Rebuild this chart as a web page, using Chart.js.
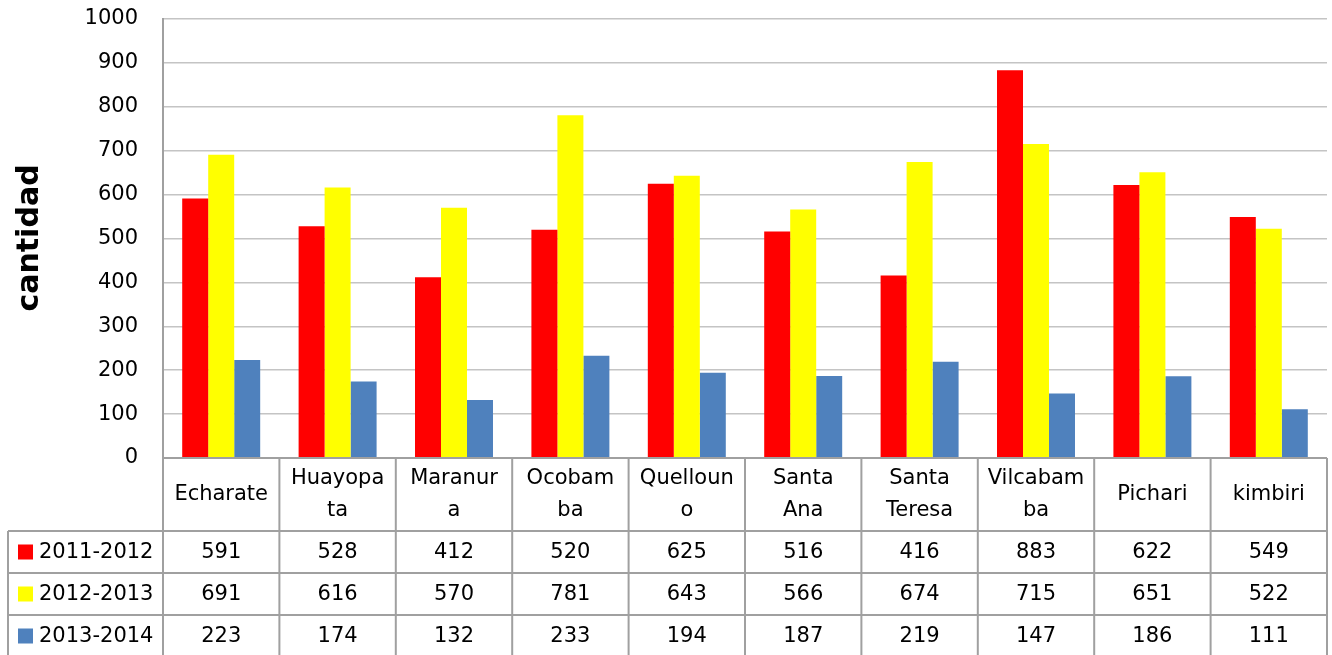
<!DOCTYPE html>
<html>
<head>
<meta charset="utf-8">
<script src="https://cdn.jsdelivr.net/npm/chart.js@4.4.1/dist/chart.umd.min.js"></script>
<style>
  html, body { margin: 0; padding: 0; background: #fff; }
  #wrap { width: 1332px; height: 655px; }
</style>
</head>
<body>
<div id="wrap"><canvas id="chart" width="1332" height="655"></canvas></div>
<script>
// distritos (header text is wrapped like in the original table)
const categories = [
  ['Echarate'], ['Huayopa', 'ta'], ['Maranur', 'a'], ['Ocobam', 'ba'], ['Quelloun', 'o'],
  ['Santa', 'Ana'], ['Santa', 'Teresa'], ['Vilcabam', 'ba'], ['Pichari'], ['kimbiri']
];
const seriesNames = ['2011-2012', '2012-2013', '2013-2014'];
const values2011 = [591, 528, 412, 520, 625, 516, 416, 883, 622, 549];
const values2012 = [691, 616, 570, 781, 643, 566, 674, 715, 651, 522];
const values2013 = [223, 174, 132, 233, 194, 187, 219, 147, 186, 111];
const yTicks = [0, 100, 200, 300, 400, 500, 600, 700, 800, 900, 1000];

const colors = ['#FF0000', '#FFFF00', '#4F81BD'];
const FONT = '"DejaVu Sans", sans-serif';
const lineGray = '#a0a0a0';

// data table under the plot (Excel style)
const dataTable = {
  id: 'dataTable',
  afterDraw(chart) {
    const ctx = chart.ctx;
    const area = chart.chartArea;
    const n = categories.length;
    const colW = (area.right - area.left) / n;
    const headerH = 73;
    const rowH = 42;
    const tableLeft = 8;
    const rows = [values2011, values2012, values2013];

    ctx.save();
    ctx.strokeStyle = lineGray;
    ctx.lineWidth = 2;

    // horizontal lines
    ctx.beginPath();
    ctx.moveTo(area.left, area.bottom);
    ctx.lineTo(area.right, area.bottom);
    for (let r = 0; r < rows.length; r++) {
      const y = area.bottom + headerH + r * rowH;
      ctx.moveTo(tableLeft, y);
      ctx.lineTo(area.right, y);
    }
    const bottom = area.bottom + headerH + rows.length * rowH;
    // vertical lines
    for (let i = 0; i <= n; i++) {
      const x = area.left + i * colW;
      ctx.moveTo(x, area.bottom);
      ctx.lineTo(x, bottom);
    }
    ctx.moveTo(tableLeft, area.bottom + headerH);
    ctx.lineTo(tableLeft, bottom);
    ctx.stroke();

    ctx.fillStyle = '#000';
    ctx.font = '21px ' + FONT;
    ctx.textAlign = 'center';
    ctx.textBaseline = 'middle';

    // header: category names
    const lineH = 32;
    categories.forEach((lines, i) => {
      const cx = chart.scales.x.getPixelForValue(i);
      const cy = area.bottom + headerH / 2;
      const y0 = cy - (lines.length - 1) * lineH / 2;
      lines.forEach((t, k) => ctx.fillText(t, cx, y0 + k * lineH));
    });

    // rows: legend key + values
    rows.forEach((vals, r) => {
      const cy = area.bottom + headerH + r * rowH + rowH / 2;
      ctx.fillStyle = colors[r];
      ctx.fillRect(18, cy - 7.5, 15, 15);
      ctx.fillStyle = '#000';
      ctx.textAlign = 'left';
      ctx.fillText(seriesNames[r], 39, cy + 1);
      ctx.textAlign = 'center';
      vals.forEach((v, i) => {
        ctx.fillText(String(v), chart.scales.x.getPixelForValue(i), cy + 1);
      });
    });

    // y axis title
    ctx.font = 'bold 30px ' + FONT;
    ctx.translate(30, 238);
    ctx.rotate(-Math.PI / 2);
    ctx.textAlign = 'center';
    ctx.textBaseline = 'middle';
    ctx.fillText('cantidad', 0, 0);
    ctx.restore();
  }
};

const ctx = document.getElementById('chart').getContext('2d');
const chart = new Chart(ctx, {
  type: 'bar',
  data: {
    labels: categories.map(c => c.join('')),
    datasets: [
      { label: seriesNames[0], data: values2011, backgroundColor: colors[0] },
      { label: seriesNames[1], data: values2012, backgroundColor: colors[1] },
      { label: seriesNames[2], data: values2013, backgroundColor: colors[2] }
    ]
  },
  options: {
    responsive: false,
    animation: false,
    layout: { padding: { left: 0, right: 5, top: 19, bottom: 197 } },
    datasets: {
      bar: { categoryPercentage: 0.67, barPercentage: 1.0 }
    },
    plugins: {
      legend: { display: false },
      tooltip: { enabled: false }
    },
    scales: {
      x: { display: false },
      y: {
        min: 0,
        max: 1000,
        afterBuildTicks(scale) {
          scale.ticks = yTicks.map(v => ({ value: v }));
        },
        afterFit(scale) {
          scale.width = 163;
          scale.paddingTop = 0;
          scale.paddingBottom = 0;
        },
        grid: { color: '#c4c4c4', lineWidth: 1.5, drawTicks: false },
        border: { display: true, color: lineGray, width: 2 },
        ticks: {
          padding: 25,
          color: '#000',
          font: { family: FONT, size: 21 },
          callback: v => String(v)
        }
      }
    }
  },
  plugins: [dataTable]
});
</script>
</body>
</html>
